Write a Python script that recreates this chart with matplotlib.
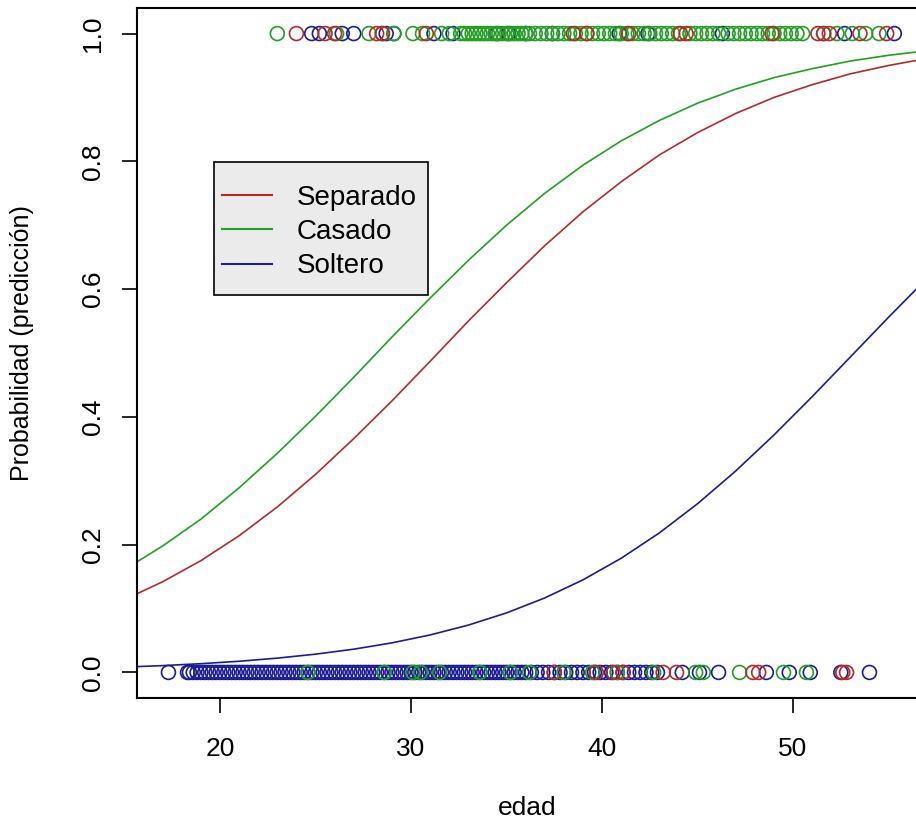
import matplotlib
matplotlib.use("Agg")
import matplotlib.pyplot as plt
from matplotlib.patches import Rectangle

plt.rcParams['font.family'] = ['Liberation Sans', 'DejaVu Sans']

# colours per group
col_sep = '#b22a2a'
col_cas = '#22a022'
col_sol = '#1c1c96'

# fitted probability (edad grid)
edad_grid = [15, 17, 19, 21, 23, 25, 27, 29, 31, 33, 35,
             37, 39, 41, 43, 45, 47, 49, 51, 53, 55, 57]
p_separado = [0.114, 0.142, 0.175, 0.214, 0.259, 0.310, 0.366, 0.425, 0.487, 0.550, 0.610,
              0.668, 0.721, 0.768, 0.810, 0.845, 0.875, 0.900, 0.920, 0.937, 0.950, 0.961]
p_casado = [0.161, 0.198, 0.240, 0.289, 0.343, 0.401, 0.462, 0.525, 0.586, 0.645, 0.700,
            0.750, 0.794, 0.832, 0.864, 0.891, 0.913, 0.931, 0.945, 0.957, 0.966, 0.973]
p_soltero = [0.0084, 0.0107, 0.0137, 0.0175, 0.0224, 0.0286, 0.0364, 0.0463, 0.0587, 0.0741, 0.0932,
             0.1166, 0.1449, 0.1787, 0.2184, 0.2641, 0.3154, 0.3717, 0.4317, 0.4938, 0.5560, 0.6166]

# observed edad, outcome = 1
sep_1 = [24.0, 25.5, 26.0, 28.2, 28.5, 30.8, 38.5, 39.2, 41.4, 44.1, 44.4,
         48.9, 51.3, 51.6, 51.9, 53.5, 54.9]
cas_1 = [23.0, 26.1, 27.8, 28.5, 29.1, 30.1, 30.6, 31.6, 32.0,
         32.6, 32.8, 33.0, 33.2, 33.4, 33.6, 33.8, 34.0, 34.2, 34.4, 34.6,
         34.8, 35.0, 35.2, 35.4, 35.6, 35.8, 36.0, 36.2, 36.5, 36.8, 37.1,
         37.4, 37.7, 38.0, 38.3, 38.6, 38.9, 39.2, 39.5, 39.8, 40.1, 40.4,
         40.7, 41.0, 41.3, 41.6, 41.9, 42.2, 42.5, 42.8, 43.1, 43.4, 43.7,
         44.0, 44.6, 44.9, 45.2, 45.5, 45.8, 46.1, 46.6, 46.9, 47.2, 47.5,
         47.8, 48.1, 48.4, 48.7, 49.0, 49.3, 49.6, 49.9, 50.2, 50.5,
         51.6, 52.3, 53.1, 53.8, 54.5]
sol_1 = [24.8, 25.2, 26.4, 27.0, 28.7, 29.1, 31.2, 32.2, 34.5, 35.1, 36.0,
         37.4, 40.9, 42.4, 46.3, 52.7, 55.3]

# observed edad, outcome = 0
sep_0 = [37.5, 39.7, 40.6, 41.1, 43.2, 43.9, 47.9, 48.2, 52.6, 52.8]
cas_0 = [24.6, 28.6, 30.1, 30.5, 31.5, 33.6, 35.2, 36.2, 38.0, 39.5, 40.8,
         42.7, 44.9, 45.3, 47.2, 49.5, 50.7]
sol_0 = [17.3, 18.3,
         18.4, 18.6, 18.8, 19.0, 19.2, 19.4, 19.6, 19.8, 20.0, 20.2,
         20.4, 20.6, 20.8, 21.0, 21.2, 21.4, 21.6, 21.8, 22.0, 22.2,
         22.4, 22.6, 22.8, 23.0, 23.2, 23.4, 23.6, 23.8, 24.0, 24.2,
         24.4, 24.6, 24.8, 25.0, 25.2, 25.4, 25.6, 25.8, 26.0, 26.2,
         26.4, 26.6, 26.8, 27.0, 27.2, 27.4, 27.6, 27.8, 28.0, 28.2,
         28.4, 28.6, 28.8, 29.0, 29.2, 29.4, 29.6, 29.8, 30.0, 30.2,
         30.4, 30.6, 30.8, 31.0, 31.2, 31.4, 31.6, 31.8, 32.0, 32.2,
         32.4, 32.6, 32.8, 33.0, 33.2, 33.4, 33.6, 33.8, 34.0, 34.2,
         34.4, 34.6, 34.8, 35.0, 35.2, 35.4, 35.6, 35.8, 36.0,
         36.3, 36.6, 36.9, 37.2, 37.5, 37.8, 38.1, 38.4, 38.7, 39.0,
         39.3, 39.6, 39.9, 40.2, 40.5, 40.8, 41.1, 41.4, 41.7, 42.0,
         42.3, 42.6, 42.9, 44.2, 45.1, 46.1, 48.6, 49.8, 50.9, 52.5, 54.0]

fig = plt.figure(figsize=(9.16, 8.27), dpi=100)
ax = fig.add_axes([137/916, 1 - 698/827, 781/916, 690/827])

ms = 100
for xs, yv, c in [(sol_0, 0, col_sol), (sol_1, 1, col_sol),
                  (cas_0, 0, col_cas), (cas_1, 1, col_cas),
                  (sep_0, 0, col_sep), (sep_1, 1, col_sep)]:
    ax.scatter(xs, [yv]*len(xs), s=ms, facecolors='none', edgecolors=c,
               linewidths=1.2, clip_on=False)

ax.plot(edad_grid, p_separado, color=col_sep, lw=1.2, label='Separado')
ax.plot(edad_grid, p_casado, color=col_cas, lw=1.2, label='Casado')
ax.plot(edad_grid, p_soltero, color=col_sol, lw=1.2, label='Soltero')

ax.set_xlim(15.654, 56.54)
ax.set_ylim(-0.04, 1.04)
ax.set_xticks([20, 30, 40, 50])
ax.set_yticks([0.0, 0.2, 0.4, 0.6, 0.8, 1.0])
ax.set_yticklabels(['0.0', '0.2', '0.4', '0.6', '0.8', '1.0'], rotation=90, va='center')
ax.tick_params(axis='both', direction='out', length=11, width=1.2, labelsize=19)
ax.tick_params(axis='x', pad=17)
ax.tick_params(axis='y', pad=12)
for sp in ax.spines.values():
    sp.set_linewidth(1.5)

# legend box drawn by hand (R style), entries placed inside
box = Rectangle((77/781, 1 - 287/690), (428-214)/781, (295-162)/690,
                transform=ax.transAxes, facecolor='#ebebeb', edgecolor='black',
                linewidth=1.2, zorder=4)
ax.add_patch(box)
leg = ax.legend(loc='center left', bbox_to_anchor=(85/781, 1 - 224/690),
                borderaxespad=0, borderpad=0, fontsize=20, frameon=False,
                handlelength=1.8, handletextpad=0.9, labelspacing=0.3)
leg.set_zorder(5)
for h in leg.get_lines():
    h.set_linewidth(1.5)

fig.text(527/916, 1 - 808/827, 'edad', ha='center', va='center', fontsize=19)
fig.text(22/916, 1 - 343/827, 'Probabilidad (predicción)', ha='center', va='center',
         rotation=90, fontsize=18)

fig.savefig('out.png', dpi=100)
